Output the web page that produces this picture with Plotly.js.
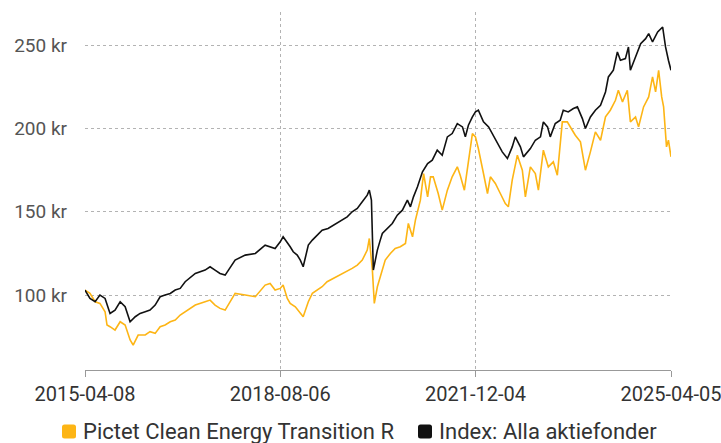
<!DOCTYPE html>
<html>
<head>
<meta charset="utf-8">
<script src="https://cdn.plot.ly/plotly-3.0.1.min.js"></script>
<style>html,body{margin:0;padding:0;background:#fff;}#chart{width:721px;height:443px;}</style>
</head>
<body>
<div id="chart"></div>
<script>
// Index: Alla aktiefonder
const indexDates = ["2015-04-08","2015-05-09","2015-06-10","2015-07-10","2015-08-11","2015-09-11","2015-10-12","2015-11-13","2015-12-14","2016-01-14","2016-02-15","2016-03-16","2016-04-17","2016-05-17","2016-06-18","2016-07-19","2016-08-19","2016-09-20","2016-10-21","2016-11-21","2016-12-22","2017-02-23","2017-04-25","2017-05-26","2017-06-26","2017-07-27","2017-08-28","2017-10-29","2017-12-31","2018-03-04","2018-05-04","2018-07-05","2018-08-06","2018-08-24","2018-10-07","2018-10-26","2018-11-20","2018-12-09","2018-12-27","2019-01-28","2019-02-22","2019-04-24","2019-05-31","2019-07-02","2019-08-27","2019-09-27","2019-10-28","2019-11-29","2019-12-30","2020-01-30","2020-02-12","2020-02-25","2020-03-08","2020-04-02","2020-04-20","2020-05-03","2020-07-04","2020-08-04","2020-09-05","2020-10-06","2020-10-25","2020-11-13","2020-12-08","2021-01-08","2021-02-09","2021-03-10","2021-04-10","2021-05-11","2021-06-12","2021-07-12","2021-08-13","2021-09-14","2021-10-02","2021-10-21","2021-11-15","2021-12-04","2021-12-22","2022-01-23","2022-02-24","2022-03-25","2022-04-25","2022-05-20","2022-06-21","2022-07-21","2022-08-09","2022-09-10","2022-09-29","2022-11-11","2022-12-12","2023-01-13","2023-01-31","2023-02-26","2023-03-15","2023-04-15","2023-05-16","2023-06-04","2023-07-05","2023-08-06","2023-08-31","2023-10-01","2023-10-20","2023-11-20","2023-12-21","2024-01-22","2024-02-22","2024-03-11","2024-04-11","2024-05-06","2024-05-25","2024-06-25","2024-07-14","2024-07-26","2024-08-27","2024-09-28","2024-10-29","2024-11-17","2024-12-11","2025-01-12","2025-02-12","2025-03-02","2025-03-20","2025-04-05"];
const indexValues = [103,98,96,100,98,89,91,96,93,84,87,89,90,91,94,99,100,101,103,104,108,113,115,117,115,113,112,121,124,125,130,128,132,135,129,126,124,121,117,130,133,139,140,142,145,147,150,152,156,160,163,157,115,127,133,137,143,148,151,157,153,159,165,174,179,181,187,184,195,197,203,201,195,202,207,210,211,204,201,196,190,186,182,189,195,189,183,188,193,195,204,201,195,203,205,211,210,212,213,206,200,207,211,214,222,231,235,246,241,242,249,235,243,251,254,257,252,258,261,249,241,235];

// Pictet Clean Energy Transition R
const fundDates = ["2015-04-08","2015-05-09","2015-06-10","2015-07-10","2015-08-11","2015-08-23","2015-09-11","2015-10-12","2015-11-13","2015-12-14","2016-01-14","2016-02-02","2016-03-04","2016-04-17","2016-05-17","2016-06-18","2016-07-19","2016-08-19","2016-09-20","2016-10-21","2016-11-21","2016-12-22","2017-02-23","2017-04-25","2017-05-26","2017-06-26","2017-07-27","2017-08-28","2017-10-29","2017-12-31","2018-03-04","2018-05-04","2018-06-04","2018-07-05","2018-08-06","2018-08-24","2018-09-19","2018-10-07","2018-11-08","2018-12-27","2019-01-28","2019-02-22","2019-04-24","2019-05-25","2019-07-26","2019-09-27","2019-10-28","2019-11-29","2019-12-30","2020-01-30","2020-02-12","2020-03-02","2020-03-14","2020-04-02","2020-04-20","2020-05-21","2020-06-22","2020-07-22","2020-08-23","2020-09-24","2020-10-12","2020-11-07","2020-11-25","2020-12-26","2021-01-15","2021-02-09","2021-02-27","2021-03-16","2021-04-16","2021-05-11","2021-06-12","2021-07-12","2021-08-13","2021-08-31","2021-09-26","2021-10-21","2021-11-15","2021-12-04","2021-12-22","2022-01-23","2022-02-17","2022-03-07","2022-04-07","2022-05-08","2022-06-08","2022-06-27","2022-07-21","2022-08-22","2022-09-22","2022-10-11","2022-11-11","2022-12-12","2022-12-31","2023-01-31","2023-03-03","2023-04-03","2023-04-28","2023-05-29","2023-06-29","2023-07-30","2023-08-18","2023-09-19","2023-10-20","2023-11-20","2023-12-21","2024-01-22","2024-02-22","2024-03-23","2024-04-24","2024-05-12","2024-06-07","2024-07-07","2024-07-26","2024-08-27","2024-09-15","2024-10-16","2024-11-17","2024-12-11","2024-12-30","2025-01-18","2025-02-06","2025-02-18","2025-03-08","2025-03-20","2025-04-05"];
const fundValues = [103,101,96,95,90,82,81,79,84,82,73,70,76,76,78,77,81,82,84,85,88,90,94,96,97,94,92,91,101,100,99,106,107,103,104,106,98,95,93,87,96,101,105,108,111,114,116,118,121,127,134,115,95,105,111,121,125,128,129,131,143,135,145,157,173,159,171,171,161,151,163,171,177,172,163,179,197,195,188,173,161,171,167,161,155,153,169,184,175,159,177,173,163,187,177,180,172,204,204,199,196,192,175,186,198,193,207,211,217,223,216,223,204,207,201,213,219,231,222,235,219,213,189,193,183];

const tickDates = ["2015-04-08","2018-08-06","2021-12-04","2025-04-05"];
const yTicks = [100,150,200,250];
const yTickText = ["100 kr","150 kr","200 kr","250 kr"];
const seriesNames = ["Pictet Clean Energy Transition R","Index: Alla aktiefonder"];

const FUND = "#FDB515", IDX = "#111111";
const FONT = "Roboto, 'Open Sans', sans-serif";

const W = 721, H = 443;
const M = {l: 85, r: 50, t: 12, b: 73};
const PW = W - M.l - M.r, PH = H - M.t - M.b;
// pixel -> paper coordinate helpers (layout only)
const px = v => (v - M.l) / PW;
const py = v => (H - M.b - v) / PH;

function roundedSquare(x0, y0, size, r, color) {
  const X = a => px(a), Y = b => py(b);
  const x1 = x0 + size, y1 = y0 + size;
  const path = `M ${X(x0 + r)} ${Y(y0)} L ${X(x1 - r)} ${Y(y0)} Q ${X(x1)} ${Y(y0)} ${X(x1)} ${Y(y0 + r)} ` +
    `L ${X(x1)} ${Y(y1 - r)} Q ${X(x1)} ${Y(y1)} ${X(x1 - r)} ${Y(y1)} L ${X(x0 + r)} ${Y(y1)} ` +
    `Q ${X(x0)} ${Y(y1)} ${X(x0)} ${Y(y1 - r)} L ${X(x0)} ${Y(y0 + r)} Q ${X(x0)} ${Y(y0)} ${X(x0 + r)} ${Y(y0)} Z`;
  return {type: "path", xref: "paper", yref: "paper", path: path, fillcolor: color, line: {width: 0}, layer: "above"};
}

const data = [
  {x: fundDates, y: fundValues, type: "scatter", mode: "lines", name: seriesNames[0], line: {color: FUND, width: 1.6}, showlegend: false, hoverinfo: "skip"},
  {x: indexDates, y: indexValues, type: "scatter", mode: "lines", name: seriesNames[1], line: {color: IDX, width: 1.6}, showlegend: false, hoverinfo: "skip"}
];

const legendY = 431.5;
const layout = {
  width: W, height: H,
  margin: M,
  paper_bgcolor: "#fff", plot_bgcolor: "#fff",
  font: {family: FONT, size: 19, color: "#444"},
  showlegend: false,
  xaxis: {
    type: "date", range: ["2015-04-08","2025-04-05"],
    tickvals: tickDates, ticktext: tickDates, ticklabeloverflow: "allow",
    showgrid: true, gridcolor: "#b3b3b3", griddash: "3px,3px", gridwidth: 1,
    showline: true, linecolor: "#999", linewidth: 1,
    ticks: "outside", ticklen: 6, tickcolor: "#999",
    tickfont: {size: 20, color: "#333"}, zeroline: false, fixedrange: true
  },
  yaxis: {
    range: [55, 270], tickvals: yTicks, ticktext: yTickText,
    showgrid: true, gridcolor: "#b3b3b3", griddash: "3px,3px", gridwidth: 1,
    showline: false, zeroline: false, ticks: "", ticklabelstandoff: 17,
    tickfont: {size: 19, color: "#555"}, fixedrange: true
  },
  shapes: [
    roundedSquare(62, legendY - 7, 14, 2.5, FUND),
    roundedSquare(418, legendY - 7, 14, 2.5, IDX)
  ],
  annotations: [
    {xref: "paper", yref: "paper", x: px(81), y: py(legendY), xanchor: "left", yanchor: "middle",
      text: seriesNames[0], showarrow: false, font: {size: 22, color: "#333", family: FONT}},
    {xref: "paper", yref: "paper", x: px(437), y: py(legendY), xanchor: "left", yanchor: "middle",
      text: seriesNames[1], showarrow: false, font: {size: 22, color: "#333", family: FONT}}
  ]
};

Plotly.newPlot("chart", data, layout, {displayModeBar: false, staticPlot: true});
</script>
</body>
</html>
